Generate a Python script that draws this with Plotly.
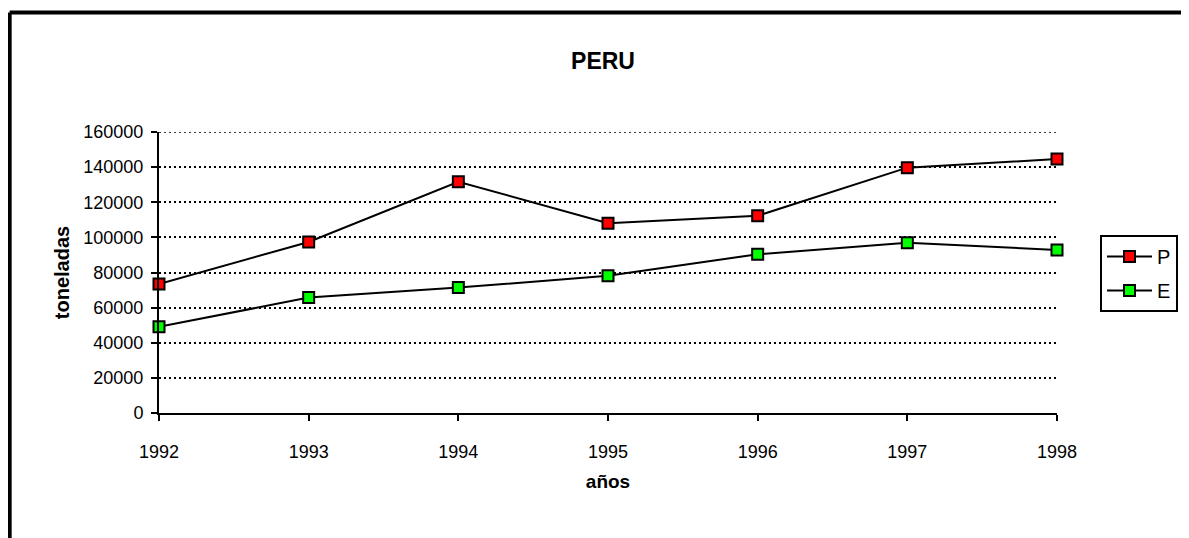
import plotly.graph_objects as go

# data
years = [1992, 1993, 1994, 1995, 1996, 1997, 1998]
p_values = [73500, 97400, 131700, 108000, 112300, 139700, 144600]
e_values = [49100, 65700, 71400, 78200, 90400, 97000, 92800]
y_ticks = [0, 20000, 40000, 60000, 80000, 100000, 120000, 140000, 160000]
y_tick_labels = [str(v) for v in y_ticks]

FONT = "Liberation Sans, Arial, sans-serif"

# page has an 8px body margin, so work in figure coords = screen - 8
OFF = 8
W, H = 1189 - OFF, 538 - OFF
L, R, T, B = 159 - OFF, 1058 - OFF, 132 - OFF, 413 - OFF


def px_x(x):
    return (x - OFF - L) / (R - L)


def px_y(y):
    return (B - (y - OFF)) / (B - T)


def trace(name, values, color):
    return go.Scatter(
        x=years, y=values, name=name, legendgroup=name, mode="lines+markers",
        cliponaxis=False,
        line=dict(color="black", width=2),
        marker=dict(symbol="square", size=11, color=color,
                    line=dict(color="black", width=2)),
    )


fig = go.Figure([trace("P", p_values, "#ff0000"), trace("E", e_values, "#00ff00")])

fig.update_layout(
    width=W, height=H,
    margin=dict(l=L, r=W - R, t=T, b=H - B),
    paper_bgcolor="white", plot_bgcolor="white",
    font=dict(family=FONT, color="black", size=18),
    title=dict(text="<b>PERU</b>", x=(603 - OFF) / W, xref="container",
               y=1 - (61 - OFF) / H, yref="container",
               xanchor="center", yanchor="middle", font=dict(size=23)),
    legend=dict(x=px_x(1100), y=px_y(235), xanchor="left", yanchor="top",
                bordercolor="black", borderwidth=2, bgcolor="white",
                font=dict(size=20), traceorder="grouped", tracegroupgap=5,
                itemwidth=45),
    xaxis=dict(
        range=[1992, 1998], tickvals=years, showgrid=False, zeroline=False,
        showline=True, linecolor="black", linewidth=2,
        ticks="outside", ticklen=6, tickwidth=2, tickcolor="black",
        ticklabelstandoff=15,
        title=dict(text="<b>años</b>", standoff=14, font=dict(size=19)),
    ),
    yaxis=dict(
        range=[0, 160000], tickvals=y_ticks, ticktext=y_tick_labels,
        zeroline=False, showline=True, linecolor="black", linewidth=2,
        ticks="outside", ticklen=6, tickwidth=2, tickcolor="black",
        ticklabelstandoff=4,
        showgrid=True, gridcolor="black", gridwidth=1.5, griddash="2px,3px",
        title=dict(text="<b>toneladas</b>", standoff=8, font=dict(size=20)),
    ),
)

# top gridline sits on the plot edge, plotly drops it, so draw it
fig.add_shape(type="line", xref="paper", yref="y", x0=0, x1=1,
              y0=y_ticks[-1], y1=y_ticks[-1], layer="below",
              line=dict(color="black", width=1.5, dash="2px,3px"))

# outer frame (only top and left edges are visible in the crop)
frame = dict(type="line", xref="paper", yref="paper",
             line=dict(color="black", width=4))
fig.add_shape(**frame, x0=px_x(9.5), x1=px_x(1200), y0=px_y(12.5), y1=px_y(12.5))
fig.add_shape(**frame, x0=px_x(9.5), x1=px_x(9.5), y0=px_y(12.5), y1=px_y(550))

fig.write_html("out.html")
